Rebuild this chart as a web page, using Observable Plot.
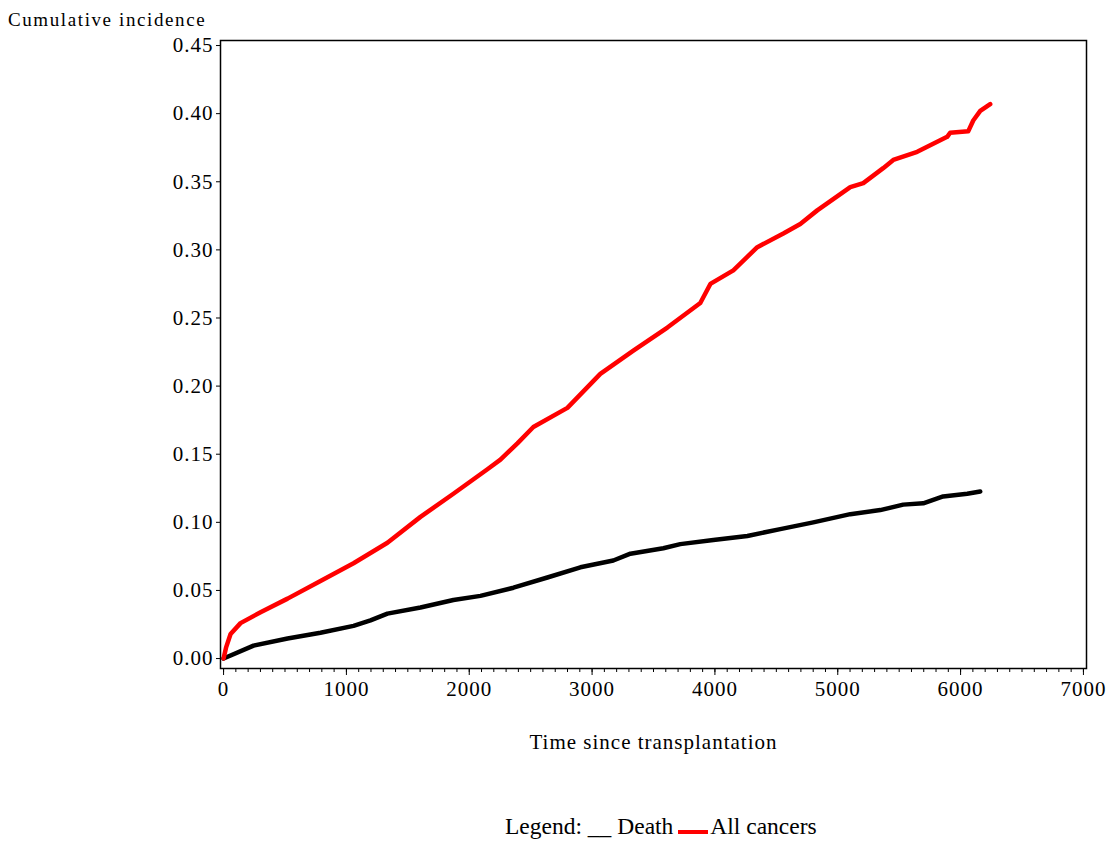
<!DOCTYPE html>
<html><head><meta charset="utf-8">
<script src="https://cdn.jsdelivr.net/npm/d3@7"></script>
<script src="https://cdn.jsdelivr.net/npm/@observablehq/plot@0.6"></script>
<style>
body{margin:0;background:#fff;font-family:"Liberation Serif","Times New Roman",serif;}
#wrap{position:relative;width:1109px;height:844px;overflow:hidden;}
#legend{position:absolute;left:505px;top:812px;font-size:23.5px;color:#000;white-space:nowrap;line-height:28px;}
#legend .red{display:inline-block;width:30px;height:0;border-bottom:4px solid #ff0000;vertical-align:baseline;margin:0 2px 0 5px;}
</style></head><body><div id="wrap"></div>
<script>
// Death (black)
const deathTime  = [0, 244, 521, 789, 1058, 1196, 1334, 1603, 1871, 2091, 2360, 2636, 2905, 3173, 3312, 3580, 3718, 3987, 4264, 4532, 4801, 5102, 5346, 5533, 5696, 5858, 6054, 6160];
const deathValue = [0, 0.0095, 0.0147, 0.019, 0.024, 0.028, 0.033, 0.0375, 0.043, 0.046, 0.052, 0.0595, 0.067, 0.072, 0.077, 0.081, 0.084, 0.087, 0.090, 0.095, 0.100, 0.106, 0.109, 0.113, 0.114, 0.119, 0.121, 0.1226];
// All cancers (red)
const cancerTime  = [0, 20, 57, 138, 301, 521, 789, 1058, 1334, 1603, 1871, 2148, 2254, 2392, 2522, 2799, 3067, 3336, 3613, 3881, 3963, 4150, 4345, 4557, 4695, 4833, 5102, 5208, 5370, 5452, 5647, 5891, 5915, 6062, 6103, 6160, 6241];
const cancerValue = [0, 0.008, 0.018, 0.026, 0.034, 0.044, 0.057, 0.070, 0.085, 0.104, 0.121, 0.139, 0.146, 0.158, 0.170, 0.184, 0.209, 0.226, 0.243, 0.261, 0.275, 0.285, 0.302, 0.312, 0.319, 0.329, 0.346, 0.349, 0.360, 0.366, 0.372, 0.383, 0.386, 0.387, 0.395, 0.402, 0.407];

const xTicks = [0, 1000, 2000, 3000, 4000, 5000, 6000, 7000];
const xMinorTicks = d3.range(0, 7001, 100);
const yTicks = [0, 0.05, 0.10, 0.15, 0.20, 0.25, 0.30, 0.35, 0.40, 0.45];

const death = deathTime.map((t, i) => ({t, v: deathValue[i]}));
const cancer = cancerTime.map((t, i) => ({t, v: cancerValue[i]}));

const chart = Plot.plot({
  width: 1109,
  height: 780,
  marginLeft: 220,
  marginRight: 23,
  marginTop: 40,
  marginBottom: 112,
  style: {fontFamily: "'Liberation Serif', 'Times New Roman', serif", fontSize: "21px", letterSpacing: "1px", color: "#000", background: "#fff"},
  x: {domain: [-25, 7025]},
  y: {domain: [-0.0073, 0.4537]},
  marks: [
    Plot.axisX({ticks: xMinorTicks, tickSize: 4, tickFormat: () => "", label: null}),
    Plot.axisX({ticks: xTicks, tickSize: 7, tickPadding: 6, tickFormat: d => String(d),
      label: "Time since transplantation", labelAnchor: "center", labelOffset: 80, labelArrow: false}),
    Plot.axisY({ticks: yTicks, tickSize: 4, tickPadding: 3, tickFormat: d3.format(".2f"), label: null}),
    Plot.line(death, {x: "t", y: "v", stroke: "#000", strokeWidth: 4.5}),
    Plot.line(cancer, {x: "t", y: "v", stroke: "#ff0000", strokeWidth: 4.5}),
    Plot.frame({stroke: "#000", strokeWidth: 1.5})
  ]
});

d3.select(chart).append("text")
  .attr("x", 8).attr("y", 26)
  .attr("text-anchor", "start")
  .attr("font-size", 19)
  .attr("letter-spacing", "1.6px")
  .attr("fill", "#000")
  .text("Cumulative incidence");

const wrap = document.getElementById("wrap");
wrap.appendChild(chart);
const leg = document.createElement("div");
leg.id = "legend";
leg.innerHTML = 'Legend: __ Death<span class="red"></span>All cancers';
wrap.appendChild(leg);
</script>
</body></html>
